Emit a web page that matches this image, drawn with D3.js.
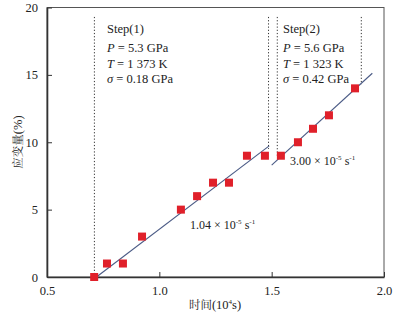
<!DOCTYPE html>
<html><head><meta charset="utf-8">
<script src="https://cdn.jsdelivr.net/npm/d3@7"></script>
<style>body{margin:0;background:#fff}svg{display:block}</style>
</head><body>
<svg id="c" width="406" height="316"></svg>
<script>
const timeX = [0.71,0.767,0.838,0.923,1.096,1.168,1.239,1.31,1.39,1.47,1.541,1.617,1.684,1.755,1.871];
const strainY = [0,1,1,3,5,6,7,7,9,9,9,10,11,12,14];
const fit1 = [[0.72,0],[1.489,9.73]];
const fit2 = [[1.5,8.3],[1.948,15.12]];
const stepLines = [[0.711,0,19.3],[1.486,9.5,19.3],[1.525,8.9,19.3],[1.899,14.3,19.3]];
const xTicks = [0.5,1.0,1.5,2.0];
const yTicks = [0,5,10,15,20];

const SERIF = "'Liberation Serif','DejaVu Serif',serif";
const CJK = "'Noto Serif CJK SC','Noto Sans CJK SC',serif";
const svg = d3.select("#c").attr("font-family",SERIF);
const L=47,R=384,T=7.5,B=277;
const x = d3.scaleLinear().domain([0.5,2.0]).range([L,R]);
const y = d3.scaleLinear().domain([0,20]).range([B,T]);

svg.append("rect").attr("x",L).attr("y",T).attr("width",R-L).attr("height",B-T).attr("fill","none").attr("stroke","#555").attr("stroke-width",1);

const gx = svg.append("g").attr("transform",`translate(0,${B})`).call(d3.axisBottom(x).tickValues(xTicks).tickFormat(d3.format(".1f")).tickSizeInner(-5).tickSizeOuter(0).tickPadding(9));
const gy = svg.append("g").attr("transform",`translate(${L},0)`).call(d3.axisLeft(y).tickValues(yTicks).tickSizeInner(-5).tickSizeOuter(0).tickPadding(9));
[gx,gy].forEach(g=>{g.attr("font-family",SERIF).attr("font-size",12.5);g.select(".domain").attr("stroke","#333").attr("stroke-width",1.6);g.selectAll(".tick line").attr("stroke","#333");g.selectAll("text").attr("fill","#222");});

svg.selectAll(".sl").data(stepLines).enter().append("line")
 .attr("x1",d=>x(d[0])).attr("x2",d=>x(d[0])).attr("y1",d=>y(d[2])).attr("y2",d=>y(d[1]))
 .attr("stroke","#333").attr("stroke-width",1).attr("stroke-dasharray","1.2,2");

[fit1,fit2].forEach(f=>svg.append("line").attr("x1",x(f[0][0])).attr("y1",y(f[0][1])).attr("x2",x(f[1][0])).attr("y2",y(f[1][1])).attr("stroke","#4a5a85").attr("stroke-width",1.1));

svg.selectAll(".pt").data(timeX.map((t,i)=>[t,strainY[i]])).enter().append("rect")
 .attr("x",d=>x(d[0])-4).attr("y",d=>y(d[1])-4).attr("width",8).attr("height",8).attr("fill","#e0202a");

function block(x0, lines){
  lines.forEach((l,i)=>{
    const t = svg.append("text").attr("x",x0).attr("y",[33,52,68,83][i]).attr("font-size",12.5).attr("fill","#222");
    if(i===0){t.text(l[0]);}
    else {t.append("tspan").attr("font-style","italic").text(l[0]); t.append("tspan").text(l[1]);}
  });
}
block(107,[["Step(1)"],["P"," = 5.3 GPa"],["T"," = 1 373 K"],["σ"," = 0.18 GPa"]]);
block(283,[["Step(2)"],["P"," = 5.6 GPa"],["T"," = 1 323 K"],["σ"," = 0.42 GPa"]]);

function rate(x0,y0,val){
  const t = svg.append("text").attr("x",x0).attr("y",y0).attr("font-size",12).attr("fill","#222");
  t.append("tspan").text(val+" × 10");
  t.append("tspan").attr("dy",-5).attr("font-size",7).text("-5");
  t.append("tspan").attr("dy",5).text(" s");
  t.append("tspan").attr("dy",-5).attr("font-size",7).text("-1");
}
rate(190,229,"1.04");
rate(290,165,"3.00");

const xl = svg.append("text").attr("x",215).attr("y",309).attr("text-anchor","middle").attr("font-size",12.5).attr("fill","#222");
xl.append("tspan").attr("font-family",CJK).attr("font-size",11.5).text("时间");
xl.append("tspan").text("(10");
xl.append("tspan").attr("dy",-5).attr("font-size",7).text("4");
xl.append("tspan").attr("dy",5).text("s)");
const yl = svg.append("text").attr("transform","translate(22,142) rotate(-90)").attr("text-anchor","middle").attr("font-size",12.5).attr("fill","#222");
yl.append("tspan").attr("font-family",CJK).attr("font-size",11.5).text("应变量");
yl.append("tspan").text("(%)");
</script>
</body></html>
